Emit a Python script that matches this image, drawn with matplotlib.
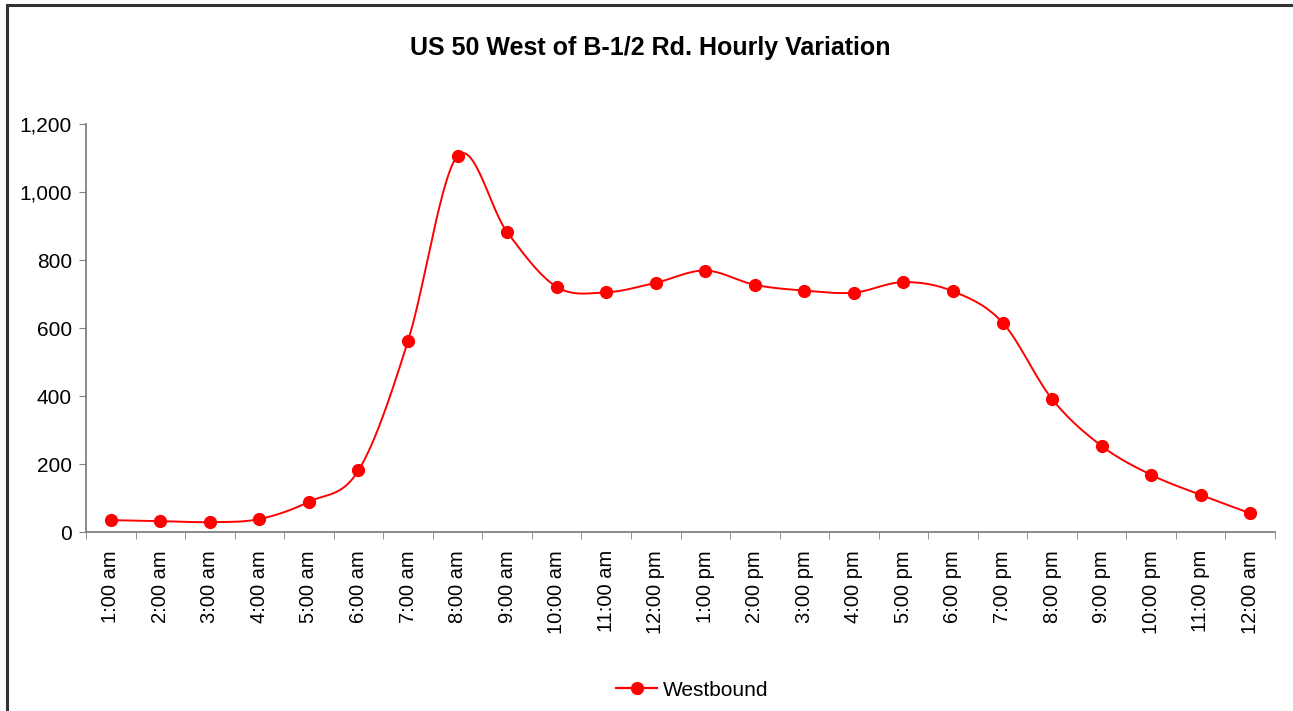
import numpy as np
import matplotlib
matplotlib.use("Agg")
import matplotlib.pyplot as plt
from matplotlib.ticker import FuncFormatter, FixedLocator
from matplotlib.patches import Rectangle

plt.rcParams['font.family'] = ['Liberation Sans', 'DejaVu Sans']

hours = ["1:00 am", "2:00 am", "3:00 am", "4:00 am", "5:00 am", "6:00 am",
         "7:00 am", "8:00 am", "9:00 am", "10:00 am", "11:00 am", "12:00 pm",
         "1:00 pm", "2:00 pm", "3:00 pm", "4:00 pm", "5:00 pm", "6:00 pm",
         "7:00 pm", "8:00 pm", "9:00 pm", "10:00 pm", "11:00 pm", "12:00 am"]
westbound = [35, 32, 29, 38, 89, 181, 562, 1106, 882, 721, 705, 733,
             769, 727, 710, 704, 735, 708, 616, 391, 253, 168, 109, 55]


def smooth(x, y, n=30):
    # catmull-rom through the points, like excel's smoothed line
    x = np.asarray(x, float); y = np.asarray(y, float)
    px = np.concatenate([[2 * x[0] - x[1]], x, [2 * x[-1] - x[-2]]])
    py = np.concatenate([[2 * y[0] - y[1]], y, [2 * y[-1] - y[-2]]])
    xs, ys = [], []
    t = np.linspace(0, 1, n, endpoint=False)
    for i in range(1, len(px) - 2):
        for p, out in ((px, xs), (py, ys)):
            p0, p1, p2, p3 = p[i - 1], p[i], p[i + 1], p[i + 2]
            out.extend(0.5 * (2 * p1 + (-p0 + p2) * t + (2 * p0 - 5 * p1 + 4 * p2 - p3) * t ** 2
                              + (-p0 + 3 * p1 - 3 * p2 + p3) * t ** 3))
    xs.append(x[-1]); ys.append(y[-1])
    return xs, ys


fig = plt.figure(figsize=(12.93, 7.11), dpi=100)
fig.patches.append(Rectangle((7 / 1293, -0.1), 1.2, 1.1 - 5 / 711, transform=fig.transFigure,
                             fill=False, edgecolor='#333333', linewidth=2.2))

ax = fig.add_axes([86 / 1293, 1 - 532 / 711, (1275 - 86) / 1293, (532 - 124) / 711])
x = np.arange(len(hours))
sx, sy = smooth(x, westbound)
ax.plot(sx, sy, color='#ff0000', linewidth=1.4, zorder=2)
ax.plot(x, westbound, 'o', color='#ff0000', markersize=8.5, zorder=3)
ax.plot([], [], '-o', color='#ff0000', markersize=8.5, linewidth=1.6, label='Westbound')

ax.set_xlim(-0.5, len(hours) - 0.5)
ax.set_ylim(0, 1200)
ax.set_yticks(range(0, 1201, 200))
ax.yaxis.set_major_formatter(FuncFormatter(lambda v, p: f"{int(v):,}"))
ax.set_xticks(x)
ax.set_xticklabels(hours, rotation=90, fontsize=14.5)
ax.xaxis.set_minor_locator(FixedLocator(np.arange(-0.5, len(hours), 1)))
ax.tick_params(axis='x', which='major', length=0, pad=13)
ax.tick_params(axis='x', which='minor', length=5, color='#808080', direction='out')
ax.tick_params(axis='y', length=5, color='#808080', labelsize=15, pad=5)
for s in ('top', 'right'):
    ax.spines[s].set_visible(False)
for s in ('left', 'bottom'):
    ax.spines[s].set_color('#808080')
    ax.spines[s].set_linewidth(1.3)

fig.text(650 / 1293, 1 - 48 / 711, "US 50 West of B-1/2 Rd. Hourly Variation",
         ha='center', va='center', fontsize=18, fontweight='bold')
fig.legend(loc='center', bbox_to_anchor=(692 / 1293, 1 - 690 / 711), frameon=False,
           fontsize=15, handlelength=2.0, handletextpad=0.25)

fig.savefig("out.png", dpi=100)
